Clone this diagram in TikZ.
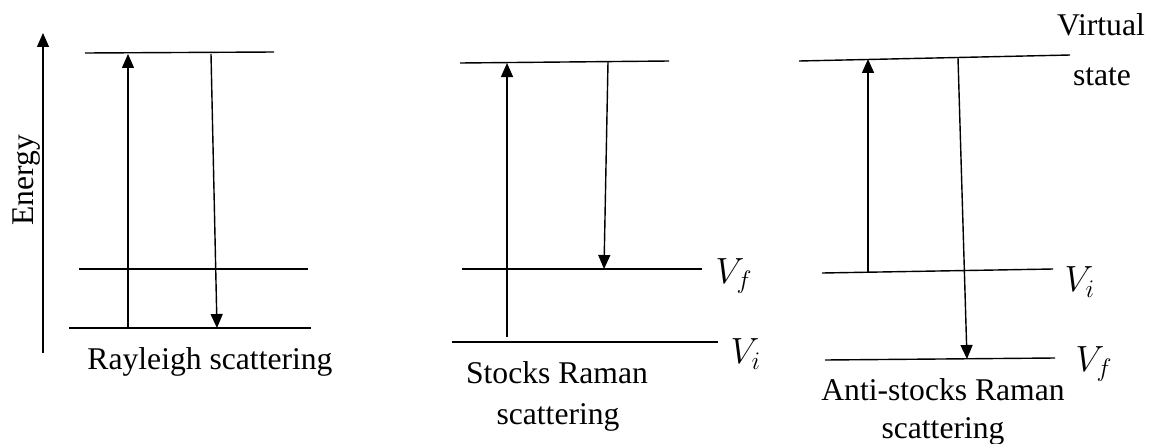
\documentclass[tikz,border=0pt]{standalone}
\usepackage{fontspec}
\setmainfont{Liberation Serif}
\usetikzlibrary{arrows.meta}

\begin{document}
\begin{tikzpicture}[x=0.02cm,y=-0.02cm,line width=0.8pt,
    >={Triangle[length=0.28cm,width=0.24cm]}]
  \tikzset{elevel/.style={line width=0.8pt},
    txt/.style={font=\fontsize{18}{21}\selectfont,inner sep=0pt},
    vlabel/.style={font=\fontsize{20}{24}\selectfont,inner sep=0pt,anchor=west}}
  \useasboundingbox (0,0) rectangle (1149,443);

  % energy axis
  \coordinate (E0) at (43,353);
  \coordinate (E1) at (43,33);
  \draw[->] (E0) -- (E1);
  \node[txt,rotate=90] (energy) at (27,180) {Energy};

  % Rayleigh
  \coordinate (RtL) at (85,53);  \coordinate (RtR) at (274,52);
  \coordinate (RmL) at (79,269); \coordinate (RmR) at (308,269);
  \coordinate (RbL) at (69,328); \coordinate (RbR) at (311,328);
  \draw[elevel] (RtL) -- (RtR);
  \draw[elevel] (RmL) -- (RmR);
  \draw[elevel] (RbL) -- (RbR);
  \coordinate (Rup0) at (128,328); \coordinate (Rup1) at (128,54);
  \coordinate (Rdn0) at (211,54);  \coordinate (Rdn1) at (217,328);
  \draw[->] (Rup0) -- (Rup1);
  \draw[->] (Rdn0) -- (Rdn1);
  \node[txt] (rayleigh) at (210,362) {Rayleigh scattering};

  % Stokes Raman
  \coordinate (StL) at (460,63);  \coordinate (StR) at (669,61);
  \coordinate (SfL) at (462,269); \coordinate (SfR) at (702,269);
  \coordinate (SiL) at (452,342); \coordinate (SiR) at (718,342);
  \draw[elevel] (StL) -- (StR);
  \draw[elevel] (SfL) -- (SfR);
  \draw[elevel] (SiL) -- (SiR);
  \coordinate (Sup0) at (507,337); \coordinate (Sup1) at (507,63);
  \coordinate (Sdn0) at (608,62);  \coordinate (Sdn1) at (604,269);
  \draw[->] (Sup0) -- (Sup1);
  \draw[->] (Sdn0) -- (Sdn1);
  \node[vlabel] (Sf) at (715,276) {$V_f$};
  \node[vlabel] (Si) at (730,354) {$V_i$};
  \node[txt] (stokes1) at (557,373) {Stocks Raman};
  \node[txt] (stokes2) at (558,417) {scattering};

  % anti-Stokes Raman
  \coordinate (AtL) at (799,61);  \coordinate (AtR) at (1070,55);
  \coordinate (AiL) at (822,273); \coordinate (AiR) at (1053,269);
  \coordinate (AfL) at (825,360); \coordinate (AfR) at (1055,358);
  \draw[elevel] (AtL) -- (AtR);
  \draw[elevel] (AiL) -- (AiR);
  \draw[elevel] (AfL) -- (AfR);
  \coordinate (Aup0) at (868,272); \coordinate (Aup1) at (868,59);
  \coordinate (Adn0) at (958,58);  \coordinate (Adn1) at (967,359);
  \draw[->] (Aup0) -- (Aup1);
  \draw[->] (Adn0) -- (Adn1);
  \node[vlabel] (Ai) at (1064,282) {$V_i$};
  \node[vlabel] (Af) at (1075,364) {$V_f$};
  \node[txt] (virt1) at (1101,25) {Virtual};
  \node[txt] (virt2) at (1102,77) {state};
  \node[txt] (anti1) at (943,390) {Anti-stocks Raman};
  \node[txt] (anti2) at (943,431) {scattering};
\end{tikzpicture}
\end{document}
